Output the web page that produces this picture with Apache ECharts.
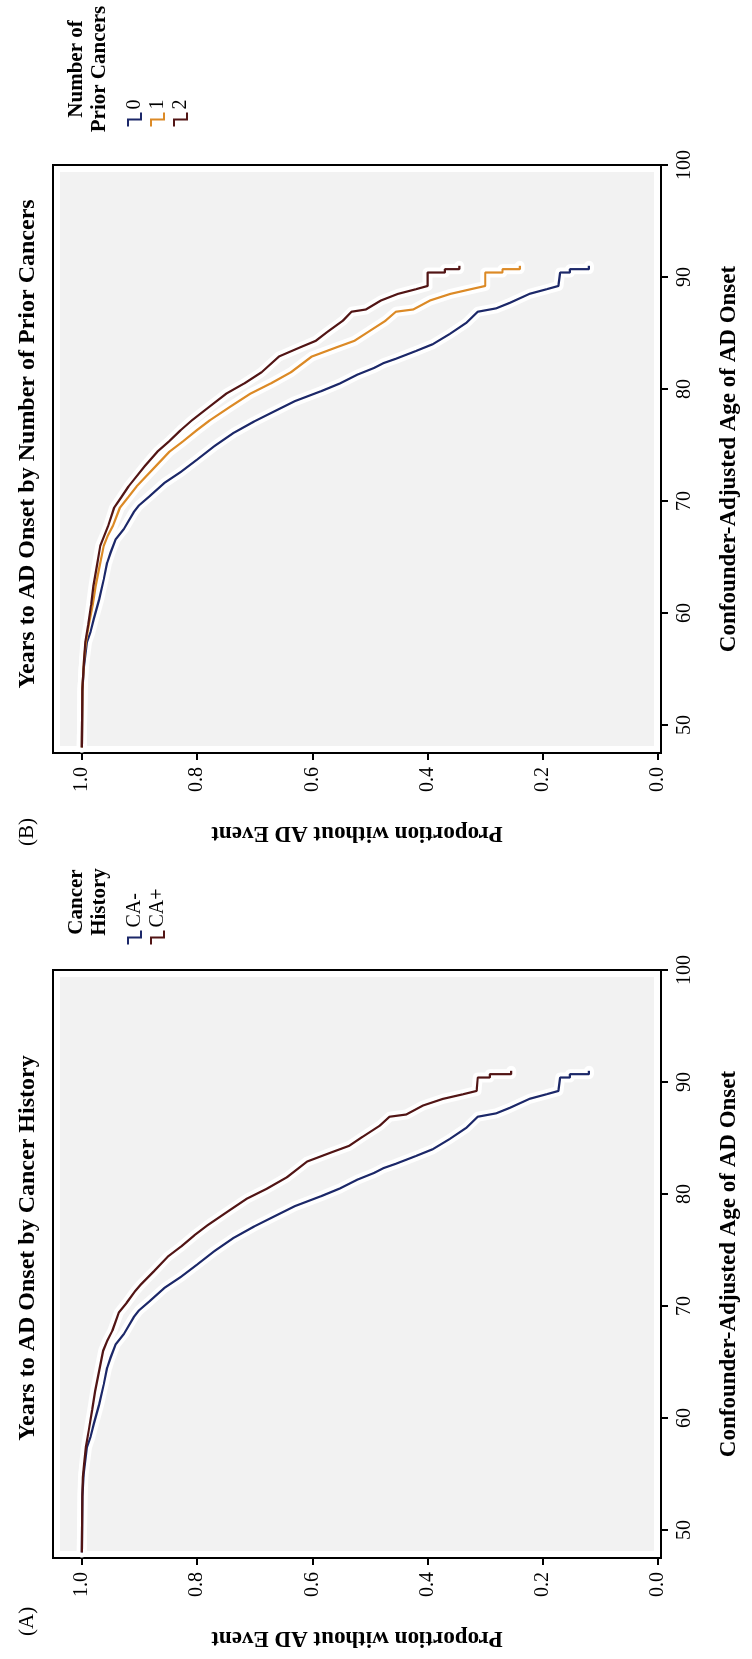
<!DOCTYPE html>
<html><head><meta charset="utf-8">
<script src="https://cdn.jsdelivr.net/npm/echarts@6/dist/echarts.min.js"></script>
<style>
html,body{margin:0;padding:0;background:#fff;overflow:hidden;width:752px;height:1659px;}
#chart{position:absolute;left:0;top:0;width:1659px;height:752px;transform-origin:0 0;transform:translate(0px,1659px) rotate(-90deg);}
</style></head><body><div id="chart"></div>
<script>
// ---- data ----
const ageTicks = [50, 60, 70, 80, 90, 100];
const propTicks = [0, 0.2, 0.4, 0.6, 0.8, 1.0];

// Panel A: Cancer History
const caNegAge  = [48, 53.0, 55.0, 57.4, 58.3, 59.5, 61.2, 63.0, 64.5, 65.4, 66.6, 67.5, 69.0, 69.6, 70.4, 71.6, 72.6, 73.7, 74.9, 76.1, 77.1, 78.0, 78.9, 79.8, 80.5, 81.3, 81.9, 82.3, 82.7, 83.4, 84.0, 84.9, 85.9, 86.9, 87.2, 87.7, 88.5, 88.9, 89.2, 90.4, 90.4, 90.7, 90.7, 91.0];
const caNegProp = [1.0, 0.999, 0.997, 0.991, 0.985, 0.979, 0.970, 0.962, 0.956, 0.950, 0.941, 0.927, 0.910, 0.901, 0.883, 0.857, 0.828, 0.800, 0.770, 0.736, 0.701, 0.666, 0.631, 0.585, 0.552, 0.521, 0.492, 0.477, 0.455, 0.420, 0.391, 0.362, 0.333, 0.313, 0.281, 0.257, 0.223, 0.194, 0.173, 0.170, 0.153, 0.153, 0.120, 0.120];
const caPosAge  = [48, 53.2, 54.7, 55.9, 57.4, 58.9, 60.7, 62.4, 64.2, 66.0, 66.9, 67.8, 69.4, 70.3, 71.3, 71.9, 73.1, 74.4, 75.3, 76.3, 77.2, 78.4, 79.6, 80.5, 81.5, 82.9, 83.7, 84.3, 85.1, 86.1, 86.9, 87.1, 87.9, 88.5, 88.9, 89.2, 90.4, 90.4, 90.7, 90.7, 91.0];
const caPosProp = [1.0, 0.999, 0.998, 0.996, 0.993, 0.988, 0.982, 0.977, 0.970, 0.963, 0.956, 0.947, 0.936, 0.922, 0.908, 0.898, 0.875, 0.851, 0.828, 0.805, 0.782, 0.748, 0.713, 0.678, 0.644, 0.609, 0.568, 0.536, 0.513, 0.483, 0.466, 0.437, 0.408, 0.373, 0.339, 0.315, 0.313, 0.292, 0.292, 0.255, 0.255];

// Panel B: Number of Prior Cancers
const n0Age  = [48, 53.0, 55.0, 57.4, 58.3, 59.5, 61.2, 63.0, 64.5, 65.4, 66.6, 67.5, 69.0, 69.6, 70.4, 71.6, 72.6, 73.7, 74.9, 76.1, 77.1, 78.0, 78.9, 79.8, 80.5, 81.3, 81.9, 82.3, 82.7, 83.4, 84.0, 84.9, 85.9, 86.9, 87.2, 87.7, 88.5, 88.9, 89.2, 90.4, 90.4, 90.7, 90.7, 91.0];
const n0Prop = [1.0, 0.999, 0.997, 0.991, 0.985, 0.979, 0.970, 0.962, 0.956, 0.950, 0.941, 0.927, 0.910, 0.901, 0.883, 0.857, 0.828, 0.800, 0.770, 0.736, 0.701, 0.666, 0.631, 0.585, 0.552, 0.521, 0.492, 0.477, 0.455, 0.420, 0.391, 0.362, 0.333, 0.313, 0.281, 0.257, 0.223, 0.194, 0.173, 0.170, 0.153, 0.153, 0.120, 0.120];
const n1Age  = [48, 53.2, 55.9, 57.4, 58.9, 60.7, 62.4, 64.2, 66.0, 66.9, 67.8, 69.4, 70.3, 71.3, 73.1, 74.4, 75.3, 76.3, 77.2, 78.4, 79.6, 80.5, 81.5, 82.9, 83.7, 84.3, 85.1, 86.1, 86.9, 87.1, 87.9, 88.5, 88.9, 89.2, 90.4, 90.4, 90.7, 90.7, 91.0];
const n1Prop = [1.0, 0.999, 0.996, 0.993, 0.988, 0.981, 0.976, 0.969, 0.962, 0.955, 0.946, 0.934, 0.920, 0.905, 0.872, 0.848, 0.825, 0.801, 0.778, 0.743, 0.707, 0.672, 0.637, 0.601, 0.559, 0.527, 0.503, 0.473, 0.455, 0.425, 0.396, 0.360, 0.326, 0.300, 0.300, 0.270, 0.270, 0.240, 0.240];
const n2Age  = [48, 53.2, 55.9, 57.4, 58.9, 60.7, 62.4, 64.2, 66.0, 66.9, 67.8, 69.4, 70.3, 71.3, 73.1, 74.4, 75.3, 76.3, 77.2, 78.4, 79.6, 80.5, 81.5, 82.9, 83.7, 84.3, 85.1, 86.1, 86.9, 87.1, 87.9, 88.5, 88.9, 89.2, 90.4, 90.4, 90.7, 90.7, 91.0];
const n2Prop = [1.0, 0.999, 0.996, 0.994, 0.989, 0.984, 0.980, 0.974, 0.968, 0.961, 0.954, 0.944, 0.932, 0.919, 0.891, 0.869, 0.849, 0.829, 0.809, 0.779, 0.749, 0.718, 0.688, 0.658, 0.622, 0.594, 0.574, 0.547, 0.532, 0.507, 0.481, 0.451, 0.421, 0.400, 0.400, 0.370, 0.370, 0.345, 0.345];

const legendA = ['CA-', 'CA+'];
const legendB = ['0', '1', '2'];

const colBlue = '#1c2869';
const colRed = '#521515';
const colOrange = '#dc8a26';
const FONT = 'Liberation Serif';

function pairs(a, p) { return a.map((x, i) => [x, p[i]]); }

function curve(name, age, prop, color, axisIdx) {
  return [
    { type: 'line', name: name + ' halo', xAxisIndex: axisIdx, yAxisIndex: axisIdx, data: pairs(age, prop),
      showSymbol: false, symbol: 'none', silent: true, z: 2,
      lineStyle: { color: '#ffffff', width: 10, opacity: 0.95, join: 'round', cap: 'round' } },
    { type: 'line', name: name, xAxisIndex: axisIdx, yAxisIndex: axisIdx, data: pairs(age, prop),
      showSymbol: false, symbol: 'none', z: 3, color: color,
      lineStyle: { color: color, width: 2.2 } }
  ];
}

function mainX(gi) {
  return { gridIndex: gi, type: 'value', min: 47.5, max: 100,
    axisLine: { show: false, onZero: false },
    axisTick: { show: true, inside: false, length: 7, lineStyle: { color: '#000', width: 2 }, customValues: ageTicks },
    axisLabel: { customValues: ageTicks, color: '#000', fontSize: 20, fontFamily: FONT, margin: 14 },
    splitLine: { show: false },
    name: 'Confounder-Adjusted Age of AD Onset', nameLocation: 'middle', nameGap: 57,
    nameTextStyle: { fontWeight: 'bold', fontSize: 23, fontFamily: FONT, color: '#000' } };
}
function mainY(gi) {
  return { gridIndex: gi, type: 'value', min: -0.005, max: 1.05,
    axisLine: { show: false, onZero: false },
    axisTick: { show: true, inside: false, length: 7, lineStyle: { color: '#000', width: 2 }, customValues: propTicks },
    axisLabel: { customValues: propTicks, color: '#000', fontSize: 20, fontFamily: FONT, margin: 14,
      formatter: v => Number(v).toFixed(1) },
    splitLine: { show: false },
    name: 'Proportion without AD Event', nameLocation: 'middle', nameRotate: 90, nameGap: 68,
    nameTextStyle: { fontWeight: 'bold', fontSize: 23, fontFamily: FONT, color: '#000' } };
}
function hiddenAxis(gi) { return { gridIndex: gi, type: 'value', show: false, min: 0, max: 1 }; }

function legendGraphic(left, top, names, colors) {
  const children = [];
  names.forEach((n, i) => {
    const y = i * 23;
    children.push({ type: 'polyline', shape: { points: [[0, y], [7, y], [7, y + 13], [14, y + 13]] },
      style: { stroke: colors[i], lineWidth: 2, fill: null } });
    children.push({ type: 'text', x: 17, y: y - 3,
      style: { text: n, font: '20px "' + FONT + '"', fill: '#000' } });
  });
  return { type: 'group', left: left, top: top, children: children };
}

const chart = echarts.init(document.getElementById('chart'));
const option = {
  animation: false,
  backgroundColor: '#ffffff',
  title: [
    { text: 'Years to AD Onset by Cancer History', left: 406, top: 11, textAlign: 'center',
      textStyle: { fontWeight: 'bold', fontSize: 24, fontFamily: FONT, color: '#000' } },
    { text: 'Years to AD Onset by Number of Prior Cancers', left: 1210, top: 11, textAlign: 'center',
      textStyle: { fontWeight: 'bold', fontSize: 24, fontFamily: FONT, color: '#000' } },
    { text: '(A)', left: 18, top: 12, textStyle: { fontWeight: 'normal', fontSize: 21, fontFamily: FONT, color: '#000' } },
    { text: '(B)', left: 808, top: 12, textStyle: { fontWeight: 'normal', fontSize: 21, fontFamily: FONT, color: '#000' } },
    { text: 'Cancer\nHistory', left: 752, top: 60, textAlign: 'center',
      textStyle: { fontWeight: 'bold', fontSize: 21, lineHeight: 23, fontFamily: FONT, color: '#000', align: 'center' } },
    { text: 'Number of\nPrior Cancers', left: 1585, top: 60, textAlign: 'center',
      textStyle: { fontWeight: 'bold', fontSize: 21, lineHeight: 23, fontFamily: FONT, color: '#000', align: 'center' } }
  ],
  graphic: [
    legendGraphic(712, 125, legendA, [colBlue, colRed]),
    legendGraphic(1530, 125, legendB, [colBlue, colOrange, colRed])
  ],
  grid: [
    { left: 101, width: 588, top: 53, height: 608, show: true, backgroundColor: 'transparent', borderColor: '#000', borderWidth: 2 },
    { left: 108, width: 574, top: 60, height: 594, show: true, backgroundColor: '#f2f2f2', borderWidth: 0 },
    { left: 906, width: 588, top: 53, height: 608, show: true, backgroundColor: 'transparent', borderColor: '#000', borderWidth: 2 },
    { left: 913, width: 574, top: 60, height: 594, show: true, backgroundColor: '#f2f2f2', borderWidth: 0 }
  ],
  xAxis: [mainX(0), hiddenAxis(1), mainX(2), hiddenAxis(3)],
  yAxis: [mainY(0), hiddenAxis(1), mainY(2), hiddenAxis(3)],
  series: [].concat(
    curve('CA-', caNegAge, caNegProp, colBlue, 0),
    curve('CA+', caPosAge, caPosProp, colRed, 0),
    curve('0', n0Age, n0Prop, colBlue, 2),
    curve('1', n1Age, n1Prop, colOrange, 2),
    curve('2', n2Age, n2Prop, colRed, 2)
  )
};
chart.setOption(option);
</script>
</body></html>
